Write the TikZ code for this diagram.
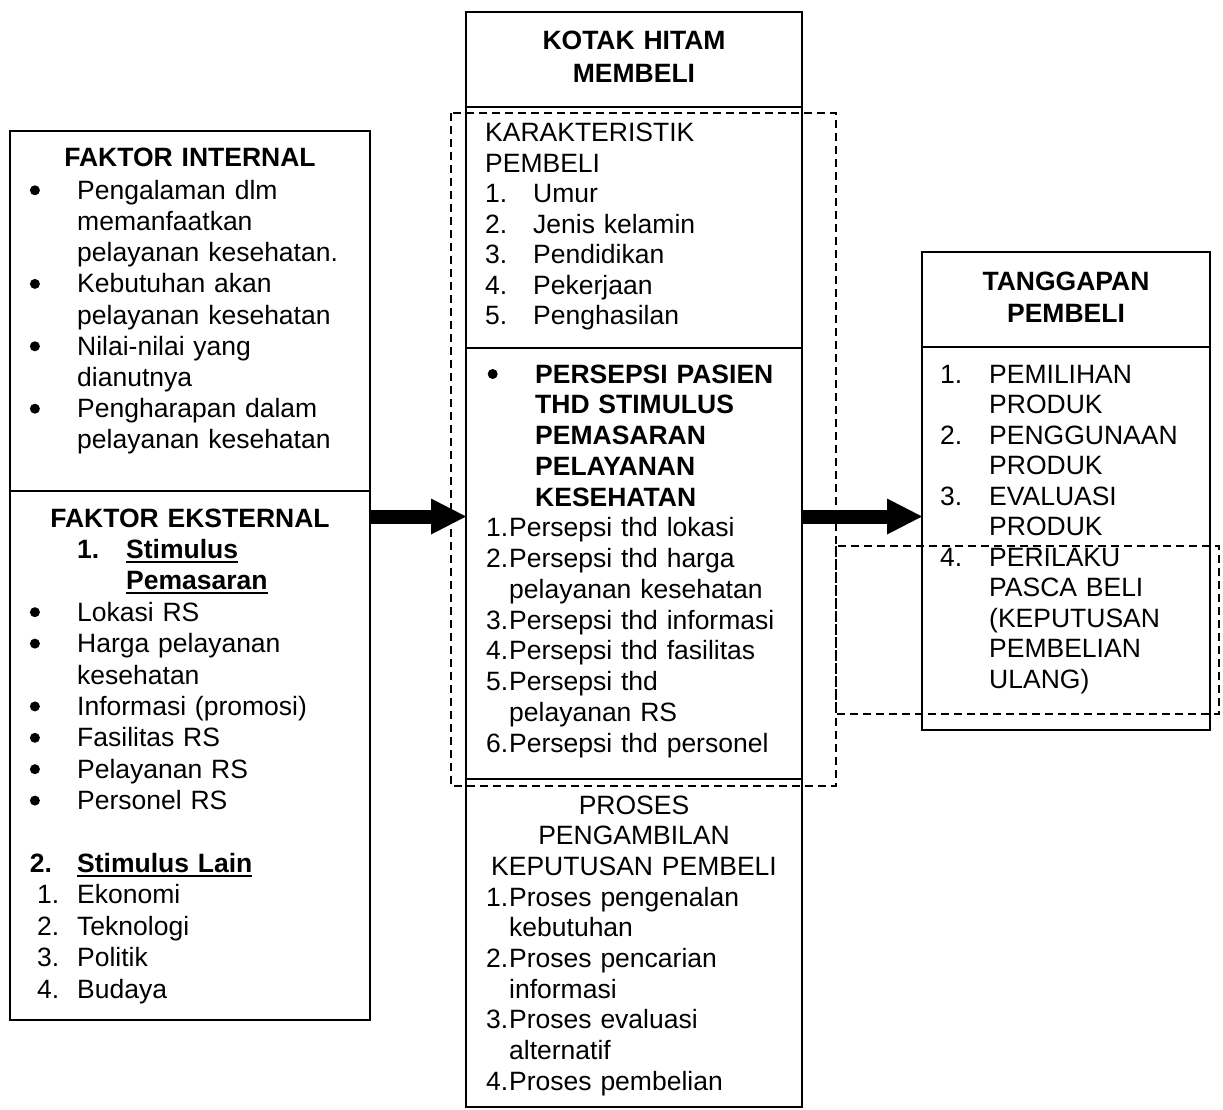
\documentclass[tikz,border=0pt]{standalone}
\usepackage{fontspec}
\setmainfont{Liberation Sans}
\usetikzlibrary{arrows.meta}
\newcommand{\isi}[1]{\fontsize{26.5pt}{#1}\selectfont}
\newcommand{\lbl}[2][47.3pt]{\makebox[#1][l]{#2}}
\newcommand{\butir}{\tikz[baseline=0pt]\fill (0,9pt) circle (5pt);}
\newcommand{\garis}[1]{\setbox0\hbox{#1}\rlap{\rule[-4.5pt]{\wd0}{2pt}}\box0}

\begin{document}
\begin{tikzpicture}[x=1pt, y=-1pt,
	box/.style={draw, line width=1.5pt, inner sep=0pt, outer sep=0pt, anchor=north west},
	zona/.style={draw, line width=1.3pt, dash pattern=on 8pt off 5pt},
	panah/.style={line width=14pt, -{Triangle[length=35pt, width=36pt, line width=0pt]}},
	teks/.style={inner sep=0pt, anchor=base west, align=left, text width=330pt},
	judul/.style={inner sep=0pt, anchor=base, align=center, text width=330pt, font=\isi{32.5pt}\bfseries}]
	\useasboundingbox (0,0) rectangle (1223,1110);
	% kotak kiri
	\node[box, minimum width=360, minimum height=360] (intern) at (10,131) {};
	\node[box, minimum width=360, minimum height=529] (extern) at (intern.south west) {};
	% kotak tengah
	\node[box, minimum width=336, minimum height=95] (kotak) at (466,12) {};
	\node[box, minimum width=336, minimum height=241] (karakter) at (kotak.south west) {};
	\node[box, minimum width=336, minimum height=431] (persepsi) at (karakter.south west) {};
	\node[box, minimum width=336, minimum height=328] (proses) at (persepsi.south west) {};
	% kotak kanan
	\node[box, minimum width=288, minimum height=95] (tanggapan) at (922,252) {};
	\node[box, minimum width=288, minimum height=383] (respon) at (tanggapan.south west) {};

	\node[judul] (tIntern) at (190,167) {FAKTOR INTERNAL};
	\node[teks, font=\isi{31.2pt}] (lIntern) at (29.7,199.3) {\lbl{\butir}Pengalaman dlm\\ \lbl{}memanfaatkan\\ \lbl{}pelayanan kesehatan.\\
		\lbl{\butir}Kebutuhan akan\\ \lbl{}pelayanan kesehatan\\ \lbl{\butir}Nilai-nilai yang\\ \lbl{}dianutnya\\
		\lbl{\butir}Pengharapan dalam\\ \lbl{}pelayanan kesehatan};
	\node[judul] (tExtern) at (190,527) {FAKTOR EKSTERNAL};
	\node[teks, font=\isi{31.4pt}] (lExtern) at (29.7,558.4) {\lbl{}\makebox[49pt][l]{\bfseries 1.}\garis{\bfseries Stimulus}\\ \lbl{}\hspace*{49pt}\garis{\bfseries Pemasaran}\\
		\lbl{\butir}Lokasi RS\\ \lbl{\butir}Harga pelayanan\\ \lbl{}kesehatan\\ \lbl{\butir}Informasi (promosi)\\ \lbl{\butir}Fasilitas RS\\
		\lbl{\butir}Pelayanan RS\\ \lbl{\butir}Personel RS\\[31.4pt] \lbl{\bfseries 2.}\garis{\bfseries Stimulus Lain}\\
		\lbl{\hspace*{7.3pt}1.}Ekonomi\\ \lbl{\hspace*{7.3pt}2.}Teknologi\\ \lbl{\hspace*{7.3pt}3.}Politik\\ \lbl{\hspace*{7.3pt}4.}Budaya};

	\node[judul] (tKotak) at (634,50) {KOTAK HITAM\\MEMBELI};
	\node[teks, font=\isi{30.5pt}] (lKarakter) at (485,142) {KARAKTERISTIK\\ PEMBELI\\ \lbl[48pt]{1.}Umur\\ \lbl[48pt]{2.}Jenis kelamin\\
		\lbl[48pt]{3.}Pendidikan\\ \lbl[48pt]{4.}Pekerjaan\\ \lbl[48pt]{5.}Penghasilan};
	\node[teks, font=\isi{30.75pt}] (lPersepsi) at (486,383) {\bfseries\lbl[49pt]{\hspace*{1.5pt}\butir}PERSEPSI PASIEN\\ \lbl[49pt]{}THD STIMULUS\\
		\lbl[49pt]{}PEMASARAN\\ \lbl[49pt]{}PELAYANAN\\ \lbl[49pt]{}KESEHATAN\mdseries\\
		\lbl[23pt]{1.}Persepsi thd lokasi\\ \lbl[23pt]{2.}Persepsi thd harga\\ \lbl[23pt]{}pelayanan kesehatan\\
		\lbl[23pt]{3.}Persepsi thd informasi\\ \lbl[23pt]{4.}Persepsi thd fasilitas\\ \lbl[23pt]{5.}Persepsi thd\\
		\lbl[23pt]{}pelayanan RS\\ \lbl[23pt]{6.}Persepsi thd personel};
	\node[judul, font=\isi{30.7pt}] (tProses) at (634,814) {PROSES\\PENGAMBILAN\\KEPUTUSAN PEMBELI};
	\node[teks, font=\isi{30.7pt}] (lProses) at (486,906.1) {\lbl[23pt]{1.}Proses pengenalan\\ \lbl[23pt]{}kebutuhan\\
		\lbl[23pt]{2.}Proses pencarian\\ \lbl[23pt]{}informasi\\ \lbl[23pt]{3.}Proses evaluasi\\ \lbl[23pt]{}alternatif\\
		\lbl[23pt]{4.}Proses pembelian};

	\node[judul] (tTanggapan) at (1066,290) {TANGGAPAN\\PEMBELI};
	\node[teks, font=\isi{30.5pt}] (lRespon) at (940,383) {\lbl[49pt]{1.}PEMILIHAN\\ \lbl[49pt]{}PRODUK\\ \lbl[49pt]{2.}PENGGUNAAN\\
		\lbl[49pt]{}PRODUK\\ \lbl[49pt]{3.}EVALUASI\\ \lbl[49pt]{}PRODUK\\ \lbl[49pt]{4.}PERILAKU\\ \lbl[49pt]{}PASCA BELI\\
		\lbl[49pt]{}(KEPUTUSAN\\ \lbl[49pt]{}PEMBELIAN\\ \lbl[49pt]{}ULANG)};

	% panah
	\coordinate (jalur) at (0,516.5);
	\draw[panah] (extern.east |- jalur) -- (persepsi.west |- jalur);
	\draw[panah] (persepsi.east |- jalur) -- (respon.west |- jalur);
	% garis putus-putus
	\draw[zona] (451,113) rectangle (836,786);
	\draw[zona] (836,546) rectangle (1219,714);
\end{tikzpicture}
\end{document}
